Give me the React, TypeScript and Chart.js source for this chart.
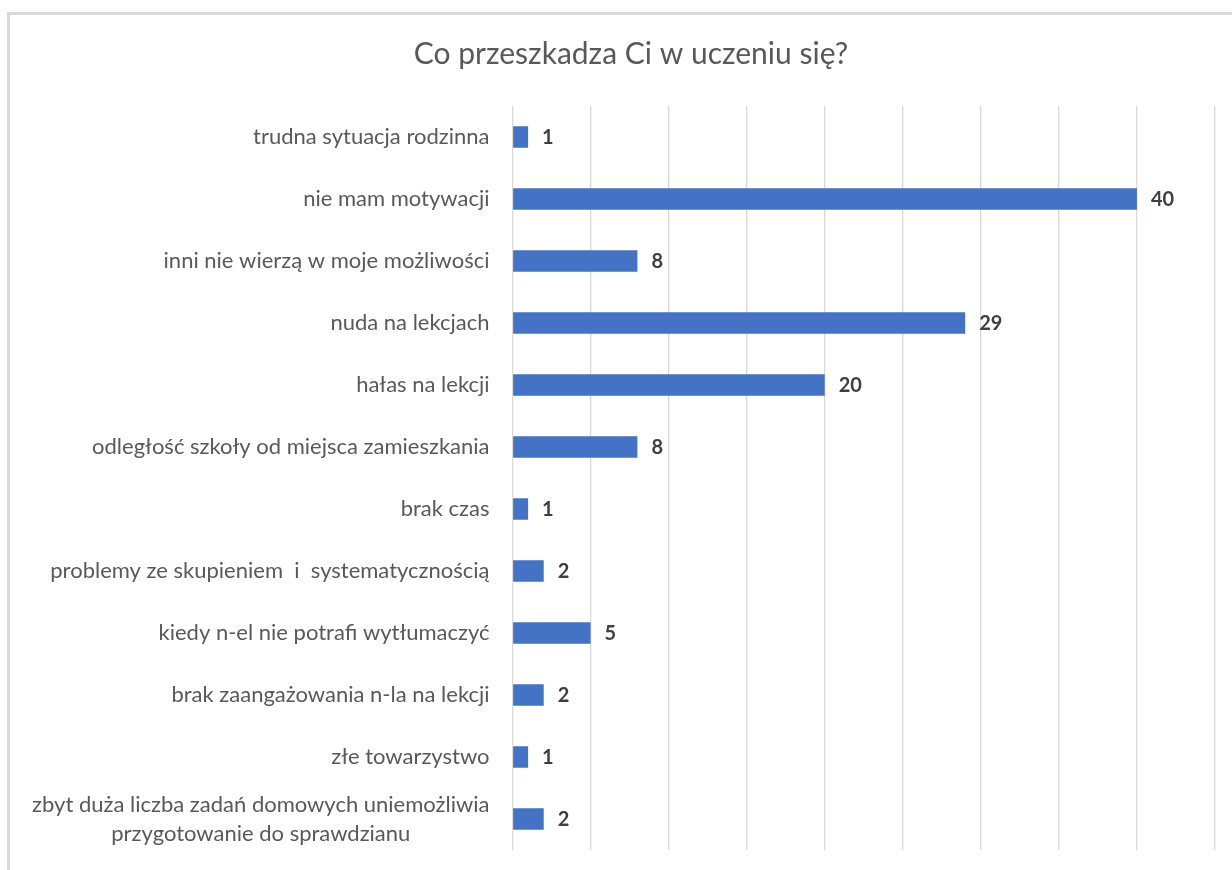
import React, { useEffect, useRef } from "react";
import { Chart, registerables } from "chart.js";

Chart.register(...registerables);

const chartTitle = "Co przeszkadza Ci w uczeniu się?";

const categories: string[][] = [
  ["trudna sytuacja rodzinna"],
  ["nie mam motywacji"],
  ["inni nie wierzą w moje możliwości"],
  ["nuda na lekcjach"],
  ["hałas na lekcji"],
  ["odległość szkoły od miejsca zamieszkania"],
  ["brak czas"],
  ["problemy ze skupieniem  i  systematycznością"],
  ["kiedy n-el nie potrafi wytłumaczyć"],
  ["brak zaangażowania n-la na lekcji"],
  ["złe towarzystwo"],
  ["zbyt duża liczba zadań domowych uniemożliwia", "przygotowanie do sprawdzianu"],
];

const values: number[] = [1, 40, 8, 29, 20, 8, 1, 2, 5, 2, 1, 2];

const axisMax = 45;
const axisStep = 5;

const FONT = "Lato, 'Noto Sans', sans-serif";

const drawPlugin = {
  id: "customDraw",
  afterDraw(chart: any) {
    const ctx = chart.ctx as CanvasRenderingContext2D;
    const yScale = chart.scales.y;
    ctx.save();
    // outer border (cropped chart frame)
    ctx.fillStyle = "#d9d9d9";
    ctx.fillRect(7, 12, 3, 858);
    ctx.fillRect(7, 12, 1225, 3);

    // title
    ctx.fillStyle = "#595959";
    ctx.font = `30px ${FONT}`;
    ctx.textAlign = "center";
    ctx.textBaseline = "alphabetic";
    ctx.fillText(chartTitle, 631, 64);

    // category labels
    ctx.font = `22px ${FONT}`;
    ctx.fillStyle = "#595959";
    const rightEdge = chart.chartArea.left - 23;
    categories.forEach((lines, i) => {
      const cy = yScale.getPixelForValue(i);
      const widths = lines.map((l) => ctx.measureText(l).width);
      const maxW = Math.max(...widths);
      const cx = rightEdge - maxW / 2;
      const lh = 29;
      const start = cy + 7 - ((lines.length - 1) * lh) / 2;
      ctx.textAlign = "center";
      lines.forEach((l, j) => ctx.fillText(l, cx, start + j * lh));
    });

    // data labels
    ctx.font = `bold 20px ${FONT}`;
    ctx.fillStyle = "#404040";
    ctx.textAlign = "left";
    const meta = chart.getDatasetMeta(0);
    meta.data.forEach((bar: any, i: number) => {
      ctx.fillText(String(values[i]), bar.x + 14, bar.y + 7);
    });
    ctx.restore();
  },
};

export default function App() {
  const ref = useRef<HTMLCanvasElement>(null);
  useEffect(() => {
    if (!ref.current) return;
    const chart = new Chart(ref.current, {
      type: "bar",
      data: {
        labels: categories.map((c) => c.join(" ")),
        datasets: [
          {
            data: values,
            backgroundColor: "#4472C4",
            barPercentage: 0.35,
            categoryPercentage: 1,
          },
        ],
      },
      options: {
        indexAxis: "y",
        responsive: false,
        animation: false,
        devicePixelRatio: 1,
        layout: { padding: { top: 106, bottom: 20, left: 0, right: 17 } },
        plugins: { legend: { display: false }, tooltip: { enabled: false }, title: { display: false } },
        scales: {
          x: {
            min: 0,
            max: axisMax,
            ticks: { display: false, stepSize: axisStep },
            grid: { color: "#d9d9d9", lineWidth: 1.3, drawTicks: false },
            border: { display: false },
            afterFit: (s: any) => {
              s.height = 0;
            },
          },
          y: {
            ticks: { display: false },
            grid: { display: false, drawTicks: false },
            border: { display: false },
            afterFit: (s: any) => {
              s.width = 512.5;
            },
          },
        },
      },
      plugins: [drawPlugin],
    } as any);
    return () => chart.destroy();
  }, []);
  return (
    <canvas
      ref={ref}
      width={1232}
      height={870}
      style={{ position: "absolute", left: 0, top: 0, width: 1232, height: 870 }}
    />
  );
}
